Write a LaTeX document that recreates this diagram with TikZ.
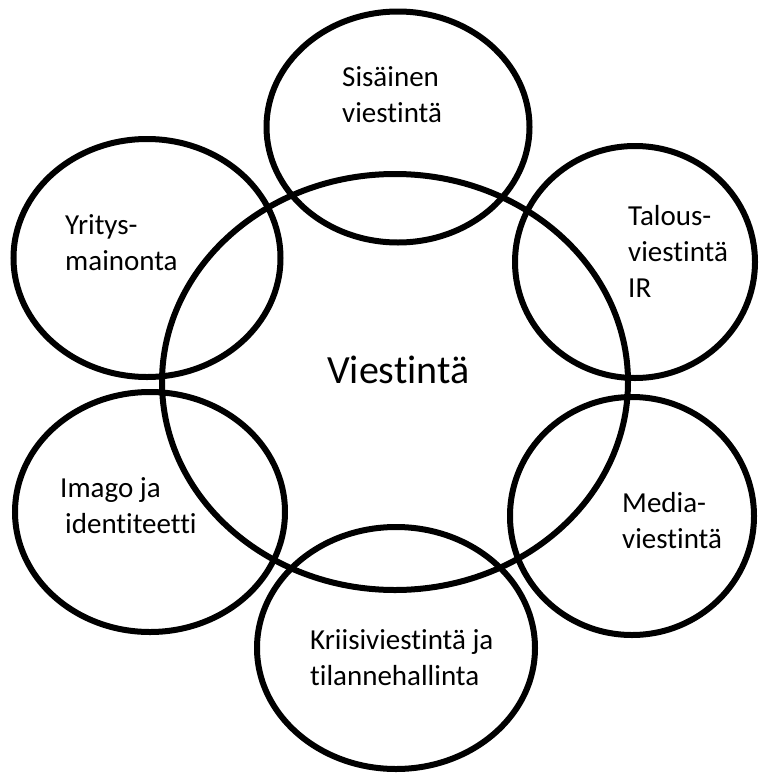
\documentclass[tikz,border=0pt]{standalone}
\usepackage{fontspec}
\setmainfont{Carlito}[Ligatures=CommonOff]
\usetikzlibrary{shapes.geometric}

\begin{document}
\begin{tikzpicture}[x=1pt, y=-1pt,
    piiri/.style={ellipse, draw, line width=6pt, inner sep=0pt},
    teksti/.style={anchor=base west, align=left, inner sep=0pt, font=\fontsize{29}{36}\selectfont}]

    \useasboundingbox (0,0) rectangle (768,774);

    % keskimmainen ja sen ymparilla olevat alueet
    \node[piiri, minimum width=466pt, minimum height=416pt] (viestinta) at (395,382) {};
    \node[piiri, minimum width=263pt, minimum height=231pt] (sisainen) at (398,127) {};
    \node[piiri, minimum width=267pt, minimum height=238pt] (yritys) at (147,258) {};
    \node[piiri, minimum width=240pt, minimum height=232pt] (talous) at (635,262) {};
    \node[piiri, minimum width=270pt, minimum height=240pt] (imago) at (150,512) {};
    \node[piiri, minimum width=244pt, minimum height=238pt] (media) at (632,516) {};
    \node[piiri, minimum width=278pt, minimum height=242pt] (kriisi) at (396,648) {};

    % tekstit (base = viimeisen rivin perusviiva)
    \node[teksti, font=\fontsize{40}{48}\selectfont] (viestinta-t) at (327,383) {Viestintä};
    \node[teksti] (sisainen-t) at (342,122) {Sisäinen\\viestintä};
    \node[teksti] (yritys-t) at (65,270) {Yritys-\\mainonta};
    \node[teksti] (talous-t) at (628,297) {Talous-\\viestintä\\IR};
    \node[teksti] (imago-t) at (60,533) {Imago ja\\\hspace*{5pt}identiteetti};
    \node[teksti] (media-t) at (622,548) {Media-\\viestintä};
    \node[teksti] (kriisi-t) at (310,685) {Kriisiviestintä ja\\tilannehallinta};

\end{tikzpicture}
\end{document}
